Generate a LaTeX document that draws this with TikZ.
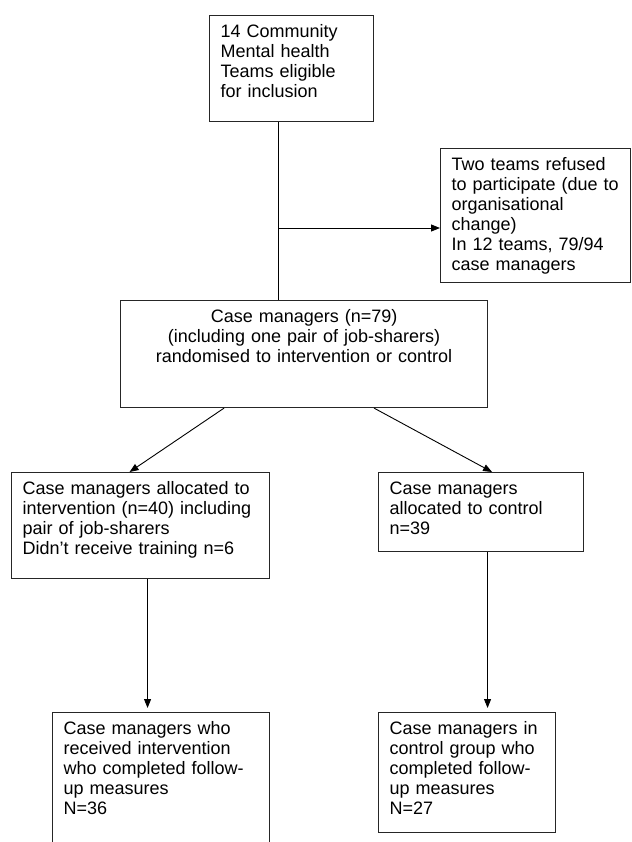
\documentclass[tikz,border=0pt]{standalone}
\usepackage{fontspec}
\setmainfont{Liberation Sans}
\usetikzlibrary{positioning}
\usetikzlibrary {arrows.meta}
\tikzset{flowbox/.style={rectangle,draw=black!85,fill=white,line width=1.1pt,
anchor=north west,align=left,inner xsep=11pt,inner ysep=9pt,text height=13pt,
font=\fontsize{18}{20}\selectfont}}
\tikzset{flowboxc/.style={flowbox,align=center}}
\tikzset{flowline/.style={line width=0.9pt,draw=black}}
\tikzset{flowarrow/.style={flowline,-{Triangle[length=9pt,width=7pt]}}}

\begin{document}
\begin{tikzpicture}[x=1pt,y=-1pt]

        \useasboundingbox (0,0) rectangle (631,842);

        \node[flowbox,text width=142pt,text depth=75pt] (boxTeams) at (209,15)
            {14 Community\\Mental health\\Teams eligible\\for inclusion};
        \node[flowbox,text width=168pt,text depth=103pt] (boxRefused) at (440,148)
            {Two teams refused\\to participate (due to\\organisational\\change)\\In 12 teams, 79/94\\case managers};
        \node[flowboxc,text width=345pt,text depth=76pt] (boxRandom) at (120,300)
            {Case managers (n=79)\\(including one pair of job-sharers)\\randomised to intervention or control};

        \node[flowbox,text width=236pt,text depth=75pt] (boxInterv) at (11,472)
            {Case managers allocated to\\intervention (n=40) including\\pair of job-sharers\\Didn’t receive training n=6};
        \node[flowbox,text width=183pt,text depth=48pt] (boxControl) at (378,472)
            {Case managers\\allocated to control\\n=39};

        \node[flowbox,text width=195pt,text depth=110pt] (boxIntervfu) at (52,712)
            {Case managers who\\received intervention\\who completed follow-\\up measures\\N=36};
        \node[flowbox,text width=155pt,text depth=89pt] (boxControlfu) at (378,712)
            {Case managers in\\control group who\\completed follow-\\up measures\\N=27};

        \coordinate (split) at (278,228);
        \draw[flowline] (split |- boxTeams.south) -- (split |- boxRandom.north);
        \draw[flowarrow] (split) -- (split -| boxRefused.west);

        \draw[flowarrow] ([xshift=-80pt]boxRandom.south) -- ([xshift=-11pt]boxInterv.north);
        \draw[flowarrow] ([xshift=70pt]boxRandom.south) -- ([xshift=11pt]boxControl.north);

        \draw[flowarrow,shorten >=4pt] ([xshift=7pt]boxInterv.south) -- ([xshift=-13.5pt]boxIntervfu.north);
        \draw[flowarrow,shorten >=4pt] ([xshift=6.5pt]boxControl.south) -- ([xshift=20.5pt]boxControlfu.north);

    \end{tikzpicture}
\end{document}
